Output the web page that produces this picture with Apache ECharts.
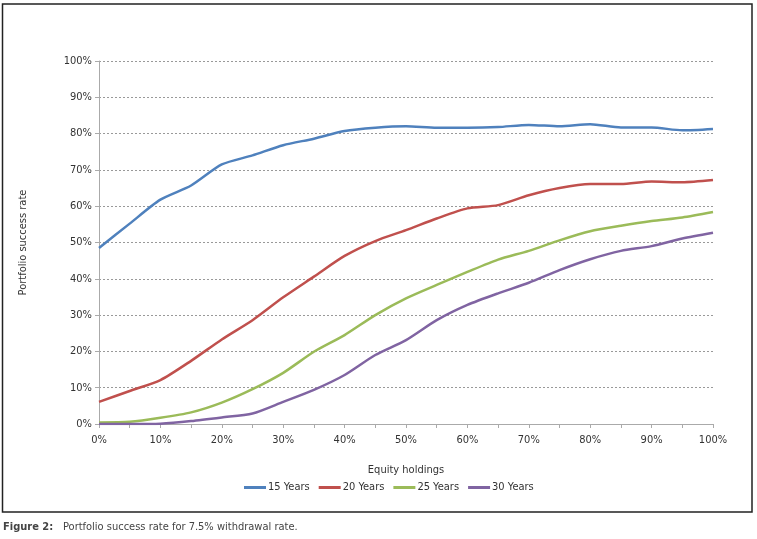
<!DOCTYPE html>
<html>
<head>
<meta charset="utf-8">
<script src="https://cdn.jsdelivr.net/npm/echarts@6/dist/echarts.min.js"></script>
<style>
html,body{margin:0;padding:0;background:#fff;}
#chart{width:757px;height:539px;}
</style>
</head>
<body>
<div id="chart"></div>
<script>
const categories = ["0%","5%","10%","15%","20%","25%","30%","35%","40%","45%","50%","55%","60%","65%","70%","75%","80%","85%","90%","95%","100%"];
const years15 = [48.5,55.2,61.8,65.7,71.5,74.0,76.8,78.6,80.7,81.6,82.0,81.6,81.6,81.8,82.4,82.0,82.6,81.7,81.7,80.9,81.3];
const years20 = [6.1,9.1,12.1,17.4,23.3,28.6,34.9,40.6,46.3,50.4,53.4,56.6,59.4,60.3,63.0,65.0,66.1,66.1,66.8,66.6,67.2];
const years25 = [0.4,0.6,1.7,3.2,5.9,9.6,14.1,19.9,24.5,30.0,34.6,38.3,41.9,45.3,47.7,50.6,53.1,54.6,55.9,56.9,58.4];
const years30 = [0.0,0.0,0.1,0.8,1.8,2.9,6.1,9.4,13.5,19.0,23.1,28.6,32.8,36.0,38.9,42.4,45.4,47.7,49.0,51.1,52.7];
const seriesNames = ["15 Years","20 Years","25 Years","30 Years"];
const yTicks = [0,10,20,30,40,50,60,70,80,90,100];

const font = '"DejaVu Sans Condensed", "Liberation Sans Narrow", "Liberation Sans", Arial, sans-serif';
const colors = ['#4F81BD','#C0504D','#9BBB59','#8064A2'];
const data = [years15, years20, years25, years30];

const chart = echarts.init(document.getElementById('chart'), null, {renderer:'canvas'});
chart.setOption({
  animation:false,
  color: colors,
  textStyle:{fontFamily:font},
  grid:{left:99,right:44,top:61,bottom:115,containLabel:false},
  legend:{
    data:seriesNames,
    left:239, top:477,
    icon:'rect', itemWidth:22, itemHeight:3, itemGap:9,
    textStyle:{fontFamily:font,fontSize:11,color:'#333',padding:[0,0,0,-3]}
  },
  xAxis:{
    type:'category', data:categories, boundaryGap:false,
    name:'Equity holdings', nameLocation:'middle', nameGap:41,
    nameTextStyle:{fontFamily:font,fontSize:11,color:'#333'},
    axisLine:{lineStyle:{color:'#aaa',width:1}},
    axisTick:{show:true,interval:0,length:4,lineStyle:{color:'#aaa'}},
    axisLabel:{interval:1,fontFamily:font,fontSize:11,color:'#333',margin:11},
    splitLine:{show:false}
  },
  yAxis:{
    type:'value', min:yTicks[0], max:yTicks[yTicks.length-1], interval:10,
    name:'Portfolio success rate', nameLocation:'middle', nameGap:70, nameRotate:90,
    nameTextStyle:{fontFamily:font,fontSize:11,color:'#333'},
    axisLine:{show:true,lineStyle:{color:'#aaa',width:1}},
    axisTick:{show:true,length:4,lineStyle:{color:'#aaa'}},
    axisLabel:{formatter:'{value}%',fontFamily:font,fontSize:11,color:'#333',margin:7},
    splitLine:{show:true,lineStyle:{color:'#999',type:[2,2],width:1}}
  },
  series: seriesNames.map((n,i)=>({
    name:n, type:'line', data:data[i], smooth:0.25, showSymbol:false, symbol:'none',
    lineStyle:{width:2.5,color:colors[i]}, itemStyle:{color:colors[i]}
  })),
  graphic:[
    {type:'rect', shape:{x:2.5,y:4,width:749.5,height:508}, style:{fill:'none',stroke:'#222',lineWidth:1.5}, silent:true},
    {type:'text', left:3, top:522, style:{text:'Figure 2:', font:'bold 11px '+font, fill:'#444'}},
    {type:'text', left:63, top:522, style:{text:'Portfolio success rate for 7.5% withdrawal rate.', font:'11px '+font, fill:'#444'}}
  ]
});
</script>
</body>
</html>
